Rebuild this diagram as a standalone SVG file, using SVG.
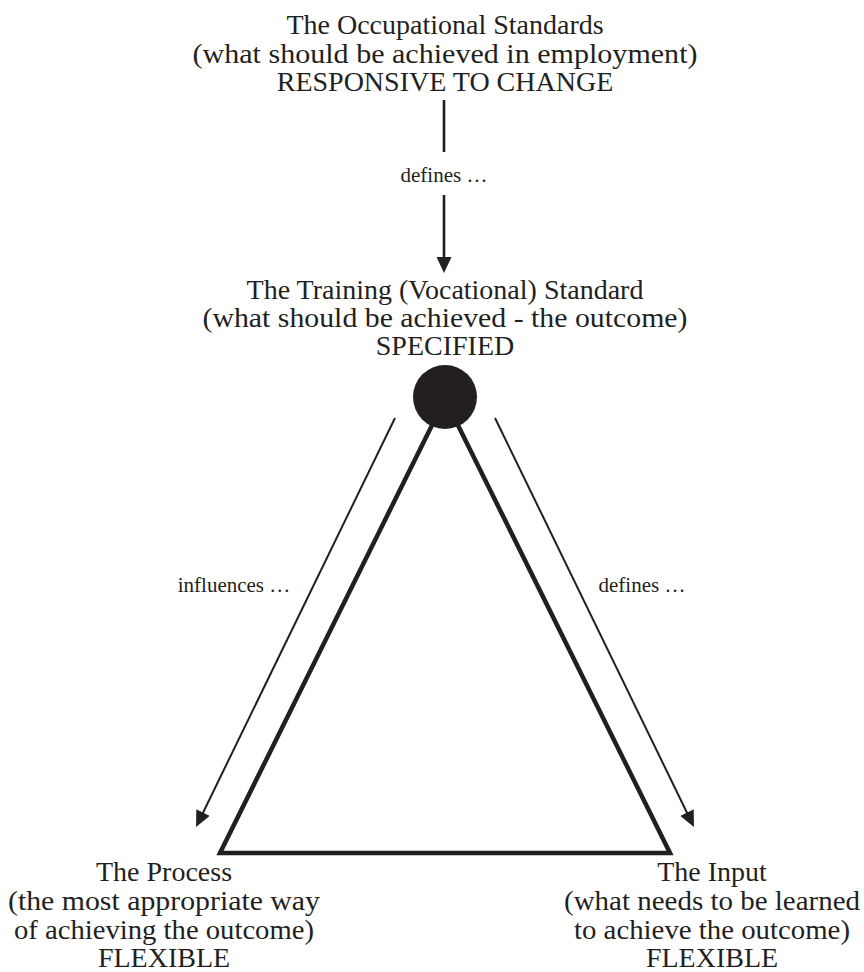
<svg xmlns="http://www.w3.org/2000/svg" width="864" height="972" viewBox="0 0 864 972">
  <style>
    .t { font-family: "Liberation Serif", "Times New Roman", serif; font-size: 28px; fill: #231f20; text-anchor: middle; }
    .lbl { font-family: "Liberation Serif", "Times New Roman", serif; font-size: 21px; fill: #231f20; text-anchor: middle; }
    .thin { stroke: #231f20; stroke-width: 2; fill: none; }
    .mid { stroke: #231f20; stroke-width: 2.6; fill: none; }
  </style>
  <defs>
    <marker id="head" viewBox="0 -7.5 16 15" refX="4" refY="0" markerWidth="16" markerHeight="15" markerUnits="userSpaceOnUse" orient="auto">
      <path d="M0,-7.5 L16,0 L0,7.5 z" fill="#231f20"/>
    </marker>
  </defs>
  <rect width="864" height="972" fill="#ffffff"/>

  <!-- connectors -->
  <g id="connectors">
    <line class="mid" x1="444" y1="100" x2="444" y2="152"/>
    <line class="mid" x1="444" y1="195" x2="444" y2="261" marker-end="url(#head)"/>
    <line class="thin" x1="395" y1="418" x2="201.3" y2="816.2" marker-end="url(#head)"/>
    <line class="thin" x1="495" y1="418" x2="688.7" y2="816.2" marker-end="url(#head)"/>
    <text class="lbl" x="444" y="182">defines …</text>
    <text class="lbl" x="234" y="592">influences …</text>
    <text class="lbl" x="642" y="592">defines …</text>
  </g>

  <!-- triangle with the outcome at its apex -->
  <g id="triangle">
    <polygon points="445,399 220,853 670,853" fill="none" stroke="#231f20" stroke-width="4.5" stroke-linejoin="miter"/>
    <circle cx="445" cy="397" r="32" fill="#231f20"/>
  </g>

  <g id="occupational">
    <text class="t" x="445" y="34">The Occupational Standards</text>
    <text class="t" x="445" y="63" textLength="505" lengthAdjust="spacingAndGlyphs">(what should be achieved in employment)</text>
    <text class="t" x="445" y="91">RESPONSIVE TO CHANGE</text>
  </g>

  <g id="training">
    <text class="t" x="445" y="299">The Training (Vocational) Standard</text>
    <text class="t" x="445" y="327" textLength="485" lengthAdjust="spacingAndGlyphs">(what should be achieved - the outcome)</text>
    <text class="t" x="445" y="355">SPECIFIED</text>
  </g>

  <g id="process">
    <text class="t" x="164" y="881">The Process</text>
    <text class="t" x="164" y="910" textLength="312" lengthAdjust="spacingAndGlyphs">(the most appropriate way</text>
    <text class="t" x="164" y="939" textLength="300" lengthAdjust="spacingAndGlyphs">of achieving the outcome)</text>
    <text class="t" x="164" y="967">FLEXIBLE</text>
  </g>

  <g id="input">
    <text class="t" x="712" y="881">The Input</text>
    <text class="t" x="712" y="910" textLength="296" lengthAdjust="spacingAndGlyphs">(what needs to be learned</text>
    <text class="t" x="712" y="939" textLength="276" lengthAdjust="spacingAndGlyphs">to achieve the outcome)</text>
    <text class="t" x="712" y="967">FLEXIBLE</text>
  </g>
</svg>
